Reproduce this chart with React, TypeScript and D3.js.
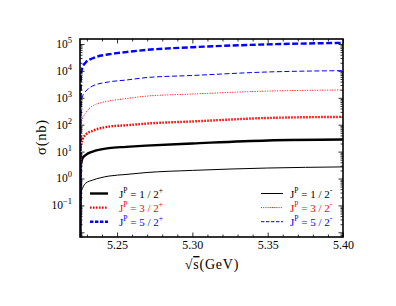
import React, { useRef, useEffect } from 'react';
import * as d3 from 'd3';

// sqrt(s) in GeV, first point is the threshold (sigma ~ 0 there)
const energies = [5.2255, 5.226, 5.2272, 5.2293, 5.2338, 5.2446, 5.2559, 5.2692, 5.3, 5.35, 5.4];
// cross sections in nb
const sigmaHalfPlus = [0.0001, 3.2, 5.8, 7.6, 10, 13.5, 15, 16.6, 20, 26, 28];
const sigmaHalfMinus = [0.0001, 0.29, 0.45, 0.68, 0.87, 1.23, 1.41, 1.66, 2.0, 2.45, 2.7];
const sigmaThreeHalfPlus = [0.0001, 15.5, 29, 43, 59, 85, 95, 110, 132, 178, 195];
const sigmaThreeHalfMinus = [0.0001, 102, 174, 282, 501, 759, 933, 1148, 1380, 1778, 1950];
const sigmaFiveHalfPlus = [0.0001, 7600, 14000, 21000, 29500, 41500, 50000, 60000, 76000, 97000, 110000];
const sigmaFiveHalfMinus = [0.0001, 646, 1200, 1780, 2750, 3900, 4570, 5620, 6760, 9120, 10200];

const spins = ['1 / 2', '3 / 2', '5 / 2'];
const xTicks = [5.25, 5.30, 5.35, 5.40];
const yTickExps = [-1, 0, 1, 2, 3, 4, 5];

type Series = {
  values: number[];
  spin: string;
  parity: string;
  color: string;
  width: number;
  dash: string | null;
  legendDash: string | null;
};

const series: Series[] = [
  { values: sigmaHalfPlus, spin: spins[0], parity: '+', color: '#000', width: 2.4, dash: null, legendDash: null },
  { values: sigmaThreeHalfPlus, spin: spins[1], parity: '+', color: '#f00', width: 2.4, dash: '1.6,1.4', legendDash: '1.6,1.4' },
  { values: sigmaFiveHalfPlus, spin: spins[2], parity: '+', color: '#00f', width: 2.4, dash: '6,2.5', legendDash: '3.4,1.6' },
  { values: sigmaHalfMinus, spin: spins[0], parity: '-', color: '#000', width: 1, dash: null, legendDash: null },
  { values: sigmaThreeHalfMinus, spin: spins[1], parity: '-', color: '#f00', width: 1, dash: '1,1.5', legendDash: '1,1.2' },
  { values: sigmaFiveHalfMinus, spin: spins[2], parity: '-', color: '#00f', width: 1, dash: '5,2.5', legendDash: '3.4,1.6' },
];

const App = () => {
  const ref = useRef<SVGSVGElement>(null);

  useEffect(() => {
    const svg = d3.select(ref.current);
    svg.selectAll('*').remove();
    const left = 80, right = 343, top = 39, bottom = 237;
    const serif = '"Liberation Serif", "Times New Roman", serif';

    const x = d3.scaleLinear().domain([5.2254, 5.40]).range([left, right]);
    const y = d3.scaleLog().domain([Math.pow(10, -2.175), Math.pow(10, 5.186)]).range([bottom, top]);

    svg.append('defs').append('clipPath').attr('id', 'plotclip')
      .append('rect').attr('x', left).attr('y', top).attr('width', right - left).attr('height', bottom - top);

    // curves
    const line = d3.line<number>()
      .x((d, i) => x(energies[i]))
      .y(d => y(d))
      .curve(d3.curveMonotoneX);
    const g = svg.append('g').attr('clip-path', 'url(#plotclip)');
    series.forEach(s => {
      g.append('path')
        .attr('d', line(s.values))
        .attr('fill', 'none')
        .attr('stroke', s.color)
        .attr('stroke-width', s.width)
        .attr('stroke-dasharray', s.dash);
    });

    // ticks
    const xMinor = d3.range(523, 541).map(v => v / 100).filter(v => !xTicks.some(t => Math.abs(t - v) < 1e-6));
    const yMinor: number[] = [];
    for (let k = -3; k <= 5; k++) {
      for (let m = 2; m <= 9; m++) {
        const v = m * Math.pow(10, k);
        if (v > y.domain()[0] && v < y.domain()[1]) yMinor.push(v);
      }
    }
    const yMajor = d3.range(-2, 6).map(k => Math.pow(10, k));

    const axes = svg.append('g').attr('font-family', serif);
    axes.append('g').attr('transform', `translate(0,${bottom})`)
      .call(d3.axisBottom(x).tickValues(xTicks).tickSizeInner(-4.5).tickSizeOuter(0).tickPadding(3).tickFormat(d3.format('.2f')))
      .attr('font-size', 12).attr('font-family', serif);
    axes.append('g').attr('transform', `translate(0,${bottom})`)
      .call(d3.axisBottom(x).tickValues(xMinor).tickSizeInner(-2.5).tickSizeOuter(0).tickFormat(() => ''));
    axes.append('g').attr('transform', `translate(0,${top})`)
      .call(d3.axisTop(x).tickValues(xTicks).tickSizeInner(-4.5).tickSizeOuter(0).tickFormat(() => ''));
    axes.append('g').attr('transform', `translate(0,${top})`)
      .call(d3.axisTop(x).tickValues(xMinor).tickSizeInner(-2.5).tickSizeOuter(0).tickFormat(() => ''));
    axes.append('g').attr('transform', `translate(${left},0)`)
      .call(d3.axisLeft(y).tickValues(yMajor).tickSizeInner(-4.5).tickSizeOuter(0).tickFormat(() => ''));
    axes.append('g').attr('transform', `translate(${left},0)`)
      .call(d3.axisLeft(y).tickValues(yMinor).tickSizeInner(-2.5).tickSizeOuter(0).tickFormat(() => ''));
    axes.append('g').attr('transform', `translate(${right},0)`)
      .call(d3.axisRight(y).tickValues(yMajor).tickSizeInner(-4.5).tickSizeOuter(0).tickFormat(() => ''));
    axes.append('g').attr('transform', `translate(${right},0)`)
      .call(d3.axisRight(y).tickValues(yMinor).tickSizeInner(-2.5).tickSizeOuter(0).tickFormat(() => ''));
    axes.selectAll('.domain').remove();
    axes.selectAll('.tick line').attr('stroke', '#000').attr('stroke-width', 0.8);
    axes.selectAll('.tick text').attr('fill', '#000');

    // frame
    svg.append('rect')
      .attr('x', left).attr('y', top).attr('width', right - left).attr('height', bottom - top)
      .attr('fill', 'none').attr('stroke', '#000').attr('stroke-width', 1.6);

    // y tick labels 10^k
    yTickExps.forEach(k => {
      const t = svg.append('text')
        .attr('x', 72).attr('y', y(Math.pow(10, k)) + 4)
        .attr('text-anchor', 'end')
        .attr('font-family', serif).attr('font-size', 11.5).attr('fill', '#000');
      t.append('tspan').text('10');
      t.append('tspan').attr('dy', -5).attr('font-size', 8.5).text(String(k).replace('-', '\u2212'));
    });

    // axis titles
    svg.append('text')
      .attr('transform', 'translate(46,137) rotate(-90)')
      .attr('text-anchor', 'middle')
      .attr('font-family', serif).attr('font-size', 14.5).attr('letter-spacing', 0.8)
      .text('\u03c3(nb)');
    const xt = svg.append('text')
      .attr('x', 212).attr('y', 269)
      .attr('text-anchor', 'middle')
      .attr('font-family', serif).attr('font-size', 14).attr('letter-spacing', 0.8);
    xt.append('tspan').text('\u221a');
    xt.append('tspan').attr('text-decoration', 'overline').text('s');
    xt.append('tspan').text('(GeV)');

    // legend
    series.forEach((s, i) => {
      const col = Math.floor(i / 3);
      const row = i % 3;
      const lx = col === 0 ? 90 : 261;
      const ly = 193.5 + row * 14.1;
      svg.append('line')
        .attr('x1', lx).attr('x2', lx + (col === 0 ? 18 : 22))
        .attr('y1', ly).attr('y2', ly)
        .attr('stroke', s.color).attr('stroke-width', s.width)
        .attr('stroke-dasharray', s.legendDash);
      const t = svg.append('text')
        .attr('x', col === 0 ? 119 : 290).attr('y', ly + 4)
        .attr('font-family', serif).attr('font-size', 11).attr('fill', s.color);
      t.append('tspan').text('J');
      t.append('tspan').attr('dy', -4.5).attr('font-size', 7.5).text('P');
      t.append('tspan').attr('dy', 4.5).text(` = ${s.spin}`);
      t.append('tspan').attr('dy', -4.5).attr('font-size', 7.5).text(s.parity);
    });
  }, []);

  return (
    <svg ref={ref} width="396" height="306" style={{ position: 'absolute', left: 0, top: 0, background: '#fff' }}></svg>
  );
};

export default App;
